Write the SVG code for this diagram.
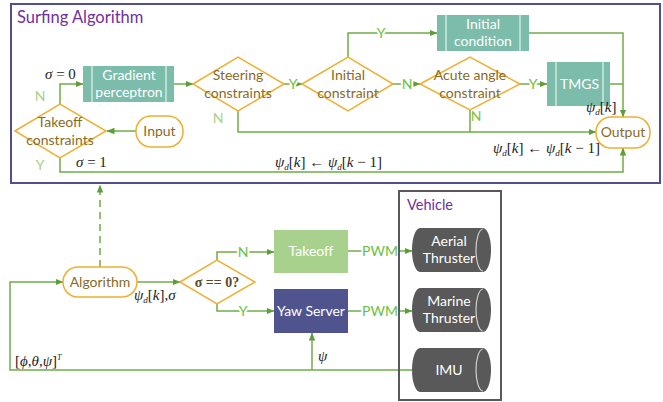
<svg xmlns="http://www.w3.org/2000/svg" width="663" height="402" viewBox="0 0 663 402">
<defs>
<marker id="ah" viewBox="0 0 8 8" refX="7.5" refY="4" markerWidth="8" markerHeight="8" markerUnits="userSpaceOnUse" orient="auto">
<path d="M0,0.8 L8,4 L0,7.2 Z" fill="#5e9e3a"/>
</marker>
<style>
.ln{fill:none;stroke:#70ad47;stroke-width:1.5}
.arr{marker-end:url(#ah)}
.dia{fill:#fff;stroke:#eeb032;stroke-width:1.5}
.rr{fill:#fff;stroke:#eeb032;stroke-width:1.5}
.dt{font-family:Lato,"Liberation Sans",Arial,sans-serif;font-size:14px;fill:#8a6a1e;text-anchor:middle}
.teal{fill:#7bbcab}
.sep{stroke:#e8f4f0;stroke-width:1.2}
.wt{font-family:Lato,"Liberation Sans",Arial,sans-serif;font-size:14px;fill:#fff;text-anchor:middle}
.lab{font-family:Lato,"Liberation Sans",Arial,sans-serif;font-size:14px;fill:#6cbf3c;text-anchor:middle;stroke:#fff;stroke-width:4;paint-order:stroke}
.pale{font-family:Lato,"Liberation Sans",Arial,sans-serif;font-size:14px;fill:#a9d18e;text-anchor:middle}
.m{font-family:"Liberation Serif","Times New Roman",serif;font-size:15px;fill:#222}
.cyl{fill:#595959}
.cf{fill:none;stroke:#d0d0d0;stroke-width:1.2}
</style>
</defs>
<rect width="663" height="402" fill="#fff"/>

<g id="surfing-box">
<rect x="11" y="4" width="649" height="179" fill="none" stroke="#4f4f8f" stroke-width="2"/>
<text x="17" y="23" font-family="Lato,Liberation Sans,Arial,sans-serif" font-size="16.5" fill="#7030a0">Surfing Algorithm</text>
</g>

<g id="connectors">
<path class="ln arr" d="M136,131 H107"/>
<path class="ln arr" d="M60,104 V84 H83"/>
<path class="ln arr" d="M174,84 H193"/>
<path class="ln arr" d="M284,84 H302"/>
<path class="ln arr" d="M348,57 V33 H437"/>
<path class="ln arr" d="M393,84 H420"/>
<path class="ln arr" d="M520,84 H547"/>
<path class="ln arr" d="M610,84 H623 V117"/>
<path class="ln" d="M529,33 H623 V84"/>
<path class="ln arr" d="M238,111 V132 H596"/>
<path class="ln" d="M470,110 V132"/>
<path class="ln arr" d="M60,158 V172 H623 V148"/>
<path class="ln arr" d="M100,267 V185" stroke-dasharray="7,5"/>
<path class="ln arr" d="M412,370 H10 V282 H63"/>
<path class="ln arr" d="M312,370 V333"/>
<path class="ln arr" d="M137,282 H180"/>
<path class="ln arr" d="M217,260 V252 H274"/>
<path class="ln arr" d="M217,304 V311 H274"/>
<path class="ln arr" d="M348,251 H412"/>
<path class="ln arr" d="M348,311 H412"/>
<text class="lab" x="293" y="89">Y</text>
<text class="lab" x="381" y="38">Y</text>
<text class="lab" x="407" y="89">N</text>
<text class="lab" x="533" y="89">Y</text>
<text class="lab" x="243" y="257">N</text>
<text class="lab" x="243" y="316">Y</text>
<text class="lab" x="380" y="256">PWM</text>
<text class="lab" x="380" y="316">PWM</text>
<text x="476" y="121" font-family="Lato,Liberation Sans,Arial,sans-serif" font-size="14" fill="#7cc242" text-anchor="middle">N</text>
<text class="pale" x="40" y="101">N</text>
<text class="pale" x="40" y="170">Y</text>
<text class="pale" x="218" y="123">N</text>
</g>

<g id="takeoff-constraints">
<polygon class="dia" points="15,131 60,104 106,131 60,158"/>
<text class="dt" x="60" y="127">Takeoff</text>
<text class="dt" x="60" y="145">constraints</text>
</g>
<g id="input">
<rect class="rr" x="136" y="116" width="47" height="31" rx="15"/>
<text class="dt" x="159.5" y="136">Input</text>
</g>
<g id="gradient-perceptron">
<rect class="teal" x="83" y="66" width="91" height="36"/>
<line class="sep" x1="92" y1="66" x2="92" y2="102"/>
<line class="sep" x1="166" y1="66" x2="166" y2="102"/>
<text class="wt" x="129" y="80">Gradient</text>
<text class="wt" x="129" y="97">perceptron</text>
</g>
<g id="steering-constraints">
<polygon class="dia" points="193,84 238,57 284,84 238,111"/>
<text class="dt" x="238" y="80">Steering</text>
<text class="dt" x="238" y="98">constraints</text>
</g>
<g id="initial-constraint">
<polygon class="dia" points="302,84 348,57 393,84 348,111"/>
<text class="dt" x="348" y="80">Initial</text>
<text class="dt" x="348" y="98">constraint</text>
</g>
<g id="initial-condition">
<rect class="teal" x="437" y="15" width="92" height="36"/>
<line class="sep" x1="446" y1="15" x2="446" y2="51"/>
<line class="sep" x1="520" y1="15" x2="520" y2="51"/>
<text class="wt" x="483" y="29">Initial</text>
<text class="wt" x="483" y="46">condition</text>
</g>
<g id="acute-angle-constraint">
<polygon class="dia" points="420,84 470,57 520,84 470,110"/>
<text class="dt" x="470" y="80">Acute angle</text>
<text class="dt" x="470" y="98">constraint</text>
</g>
<g id="tmgs">
<rect class="teal" x="547" y="62" width="63" height="44"/>
<line class="sep" x1="556" y1="62" x2="556" y2="106"/>
<line class="sep" x1="603" y1="62" x2="603" y2="106"/>
<text class="wt" x="579.5" y="89">TMGS</text>
</g>
<g id="output">
<rect class="rr" x="596" y="117" width="54" height="31" rx="15"/>
<text class="dt" x="623" y="137">Output</text>
</g>

<g id="math-labels">
<text class="m" x="45" y="79"><tspan font-style="italic">σ</tspan> = 0</text>
<text class="m" x="76" y="167"><tspan font-style="italic">σ</tspan> = 1</text>
<text class="m" x="275" y="167"><tspan font-style="italic">ψ</tspan><tspan font-size="9" font-style="italic" dy="3">d</tspan><tspan dy="-3">[</tspan><tspan font-style="italic">k</tspan>] ← <tspan font-style="italic">ψ</tspan><tspan font-size="9" font-style="italic" dy="3">d</tspan><tspan dy="-3">[</tspan><tspan font-style="italic">k</tspan> − 1]</text>
<text class="m" x="493" y="153"><tspan font-style="italic">ψ</tspan><tspan font-size="9" font-style="italic" dy="3">d</tspan><tspan dy="-3">[</tspan><tspan font-style="italic">k</tspan>] ← <tspan font-style="italic">ψ</tspan><tspan font-size="9" font-style="italic" dy="3">d</tspan><tspan dy="-3">[</tspan><tspan font-style="italic">k</tspan> − 1]</text>
<text class="m" x="586" y="112"><tspan font-style="italic">ψ</tspan><tspan font-size="9" font-style="italic" dy="3">d</tspan><tspan dy="-3">[</tspan><tspan font-style="italic">k</tspan>]</text>
<text class="m" x="134" y="300"><tspan font-style="italic">ψ</tspan><tspan font-size="9" font-style="italic" dy="3">d</tspan><tspan dy="-3">[</tspan><tspan font-style="italic">k</tspan>],<tspan font-style="italic">σ</tspan></text>
<text class="m" x="15" y="366">[<tspan font-style="italic">ϕ</tspan>,<tspan font-style="italic">θ</tspan>,<tspan font-style="italic">ψ</tspan>]<tspan font-size="8" font-style="italic" dy="-6">T</tspan></text>
<text class="m" x="318" y="361" font-style="italic">ψ</text>
</g>

<g id="algorithm">
<rect class="rr" x="63" y="267" width="74" height="30" rx="15"/>
<text class="dt" x="100" y="287">Algorithm</text>
</g>
<g id="sigma-check">
<polygon class="dia" points="180,282 217,260 255,282 217,304"/>
<text x="217" y="287" font-family="Liberation Serif,Times New Roman,serif" font-size="14" font-weight="bold" fill="#5a4a2a" text-anchor="middle">σ == 0?</text>
</g>
<g id="takeoff">
<rect x="274" y="230" width="74" height="43" fill="#a9d18e"/>
<text class="wt" x="311" y="256">Takeoff</text>
</g>
<g id="yaw-server">
<rect x="274" y="289" width="74" height="44" fill="#4f548f"/>
<text class="wt" x="311" y="316">Yaw Server</text>
</g>

<g id="vehicle">
<rect x="399" y="191" width="102" height="209" fill="none" stroke="#595959" stroke-width="2"/>
<text x="407" y="210" font-family="Lato,Liberation Sans,Arial,sans-serif" font-size="14.5" fill="#7030a0">Vehicle</text>
</g>
<g id="aerial-thruster">
<path class="cyl" d="M420,228 H483 A8,22 0 0 1 483,272 H420 A8,22 0 0 1 420,228 Z"/>
<path class="cf" d="M483,229 A7,21 0 0 0 483,271"/>
<text class="wt" x="449" y="246">Aerial</text>
<text class="wt" x="449" y="263">Thruster</text>
</g>
<g id="marine-thruster">
<path class="cyl" d="M420,288 H483 A8,22 0 0 1 483,332 H420 A8,22 0 0 1 420,288 Z"/>
<path class="cf" d="M483,289 A7,21 0 0 0 483,331"/>
<text class="wt" x="449" y="306">Marine</text>
<text class="wt" x="449" y="323">Thruster</text>
</g>
<g id="imu">
<path class="cyl" d="M420,348 H483 A8,22 0 0 1 483,392 H420 A8,22 0 0 1 420,348 Z"/>
<path class="cf" d="M483,349 A7,21 0 0 0 483,391"/>
<text class="wt" x="449" y="375">IMU</text>
</g>
</svg>
